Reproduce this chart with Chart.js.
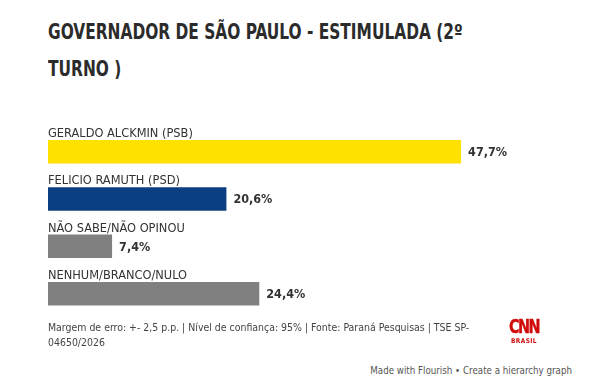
<!DOCTYPE html>
<html>
<head>
<meta charset="utf-8">
<script src="https://cdn.jsdelivr.net/npm/chart.js@4.4.0/dist/chart.umd.min.js"></script>
<style>
  body{margin:0;background:#fff;}
  #pagina{position:relative;width:589px;height:390px;overflow:hidden;color:#333;}
  #titulo{position:absolute;left:48px;top:14px;font-weight:bold;line-height:30.8px;color:#2b2b2b;white-space:nowrap;transform:scaleY(1.2);transform-origin:0 0;}
  #grafico{position:absolute;left:0;top:100px;width:589px;height:225px;}
  #rodape{position:absolute;left:48px;top:320px;line-height:15px;color:#444;white-space:nowrap;}
  #logo{position:absolute;left:504px;top:316px;width:40px;text-align:center;color:#d10a0a;}
  #logo .cnn{font-weight:bold;font-size:20px;line-height:20px;letter-spacing:-2px;transform:scaleX(0.8);-webkit-text-stroke:0.4px #d10a0a;}
  #logo .br{font-weight:bold;font-size:6.5px;line-height:8px;letter-spacing:0.4px;margin-top:1px;}
  #flourish{position:absolute;right:17px;top:365px;color:#555;white-space:nowrap;}
</style>
</head>
<body>
<div id="pagina">
  <div id="titulo"><span id="linha1">GOVERNADOR DE SÃO PAULO - ESTIMULADA (2º</span><br>TURNO )</div>
  <canvas id="grafico" width="589" height="225"></canvas>
  <div id="rodape"><span id="rod1">Margem de erro: +- 2,5 p.p. | Nível de confiança: 95% | Fonte: Paraná Pesquisas | TSE SP-</span><br>04650/2026</div>
  <div id="logo"><div class="cnn">CNN</div><div class="br">BRASIL</div></div>
  <div id="flourish">Made with Flourish • Create a hierarchy graph</div>
</div>
<script>
var categorias = ["GERALDO ALCKMIN (PSB)", "FELICIO RAMUTH (PSD)", "NÃO SABE/NÃO OPINOU", "NENHUM/BRANCO/NULO"];
var valores = [47.7, 20.6, 7.4, 24.4];
var rotulos = ["47,7%", "20,6%", "7,4%", "24,4%"];

var cores = ["#ffe100", "#0c3f81", "#808080", "#808080"];

function temFonte(nome){
  var c = document.createElement('canvas').getContext('2d');
  var s = 'GOVERNADOR abc 123 ilm';
  c.font = 'bold 20px monospace';
  var a = c.measureText(s).width;
  c.font = 'bold 20px "' + nome + '", monospace';
  return c.measureText(s).width !== a;
}

var fonte = "Lato";
["Liberation Sans Narrow", "DejaVu Sans Condensed", "Lato"].some(function(f){
  if (temFonte(f)) { fonte = f; return true; }
  return false;
});

// tamanho de fonte que deixa o texto com a largura pedida
function ajusta(texto, peso, largura){
  var c = document.createElement('canvas').getContext('2d');
  c.font = peso + ' 100px "' + fonte + '"';
  return 100 * largura / c.measureText(texto).width;
}

var tamTitulo = ajusta("GOVERNADOR DE SÃO PAULO - ESTIMULADA (2º", "bold", 415);
var tamRotulo = ajusta(categorias[0], "normal", 145);
var tamValor = ajusta(rotulos[0], "bold", 39);
var tamRodape = ajusta(document.getElementById('rod1').textContent, "normal", 422);
var tamFlourish = ajusta(document.getElementById('flourish').textContent, "normal", 202);

document.getElementById('pagina').style.fontFamily = '"' + fonte + '", sans-serif';
document.getElementById('titulo').style.fontSize = tamTitulo + 'px';
document.getElementById('rodape').style.fontSize = tamRodape + 'px';
document.getElementById('flourish').style.fontSize = tamFlourish + 'px';

var textos = {
  id: 'textos',
  afterDatasetsDraw: function(chart){
    var ctx = chart.ctx;
    var barras = chart.getDatasetMeta(0).data;
    ctx.save();
    ctx.fillStyle = '#333';
    barras.forEach(function(b, i){
      ctx.font = 'normal ' + tamRotulo + 'px "' + fonte + '"';
      ctx.textBaseline = 'alphabetic';
      ctx.textAlign = 'left';
      ctx.fillText(categorias[i], chart.chartArea.left, b.y - b.height / 2 - 3);
      ctx.font = 'bold ' + tamValor + 'px "' + fonte + '"';
      ctx.textBaseline = 'middle';
      ctx.fillText(rotulos[i], b.x + 7, b.y + 1);
    });
    ctx.restore();
  }
};

function desenha(){
  var ctx = document.getElementById('grafico').getContext('2d');
  new Chart(ctx, {
    type: 'bar',
    data: {
      labels: categorias,
      datasets: [{
        data: valores,
        backgroundColor: cores,
        borderWidth: 0,
        categoryPercentage: 1,
        barPercentage: 0.497
      }]
    },
    options: {
      indexAxis: 'y',
      responsive: false,
      animation: false,
      layout: { padding: { left: 48, right: 21.4, top: 28, bottom: 7.7 } },
      scales: {
        x: { display: false, min: 0, max: 60 },
        y: { display: false }
      },
      plugins: { legend: { display: false }, tooltip: { enabled: false } }
    },
    plugins: [textos]
  });
}

desenha();
</script>
</body>
</html>
